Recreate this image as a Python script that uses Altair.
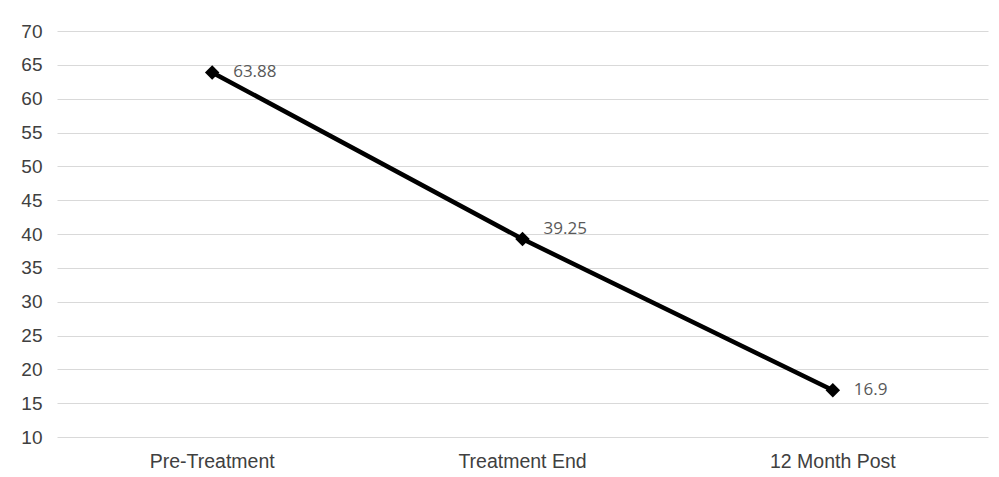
import altair as alt
import pandas as pd

categories = ["Pre-Treatment", "Treatment End", "12 Month Post"]
values = [63.88, 39.25, 16.9]
labels = ["63.88", "39.25", "16.9"]

df = pd.DataFrame({"cat": categories, "val": values, "lab": labels})

x = alt.X("cat:N", sort=categories, title=None,
          scale=alt.Scale(type="band", paddingInner=0, paddingOuter=0),
          axis=alt.Axis(labelAngle=0, ticks=False, domain=False, grid=False,
                        labelPadding=15, labelFontSize=19.5, labelColor="#404040",
                        labelFont="Liberation Sans"))
y = alt.Y("val:Q", title=None,
          scale=alt.Scale(domain=[10, 70], nice=False, zero=False),
          axis=alt.Axis(values=list(range(10, 71, 5)), ticks=False, domain=False,
                        gridColor="#d9d9d9", gridWidth=1, labelPadding=15,
                        labelFontSize=19, labelColor="#404040",
                        labelFont="Liberation Sans"))

base = alt.Chart(df)

line = base.mark_line(color="black", strokeWidth=4.5).encode(x=x, y=y)
pts = base.mark_point(shape="diamond", filled=True, color="black", size=210, opacity=1).encode(x=x, y=y)
txt = base.mark_text(align="left", baseline="middle", dx=21, dy=0, fontSize=17,
                     color="#595959", font="Open Sans").encode(
    x=x, y=y, text="lab:N").transform_filter(alt.datum.cat != "Treatment End")
txt_mid = base.mark_text(align="left", baseline="middle", dx=21, dy=-10, fontSize=17,
                         color="#595959", font="Open Sans").encode(
    x=x, y=y, text="lab:N").transform_filter(alt.datum.cat == "Treatment End")

chart = alt.layer(line, pts, txt, txt_mid).properties(
    width=931, height=406,
    padding={"left": 49, "top": 23, "right": 3, "bottom": 38},
    autosize=alt.AutoSizeParams(type="none"),
    background="white",
).configure_view(stroke=None)

chart.save("out.html", embed_options={"renderer": "svg", "actions": False})
